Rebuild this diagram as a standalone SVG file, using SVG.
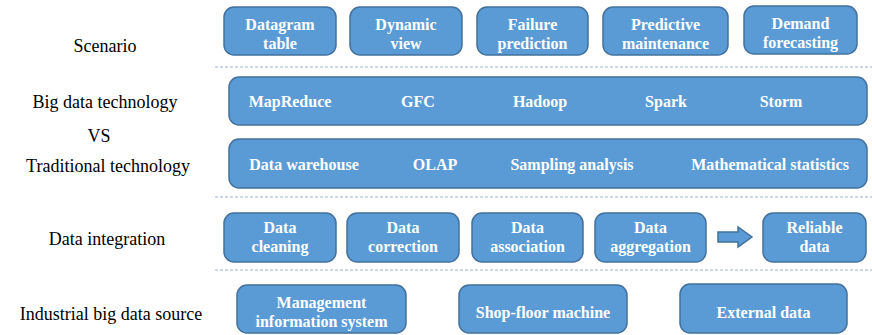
<svg xmlns="http://www.w3.org/2000/svg" width="872" height="335" viewBox="0 0 872 335">
<style>
.box{fill:#5B9BD5;stroke:#41719C;stroke-width:1.5}
.t{font-family:'Liberation Serif','DejaVu Serif','Noto Serif',serif;font-weight:bold;font-size:16px;fill:#ffffff;text-anchor:middle}
.lab{font-family:'Liberation Serif','DejaVu Serif','Noto Serif',serif;font-size:18px;fill:#000000;text-anchor:middle}
.dash{stroke:#9FB4C8;stroke-width:1;stroke-dasharray:3 2;fill:none}
</style>
<rect width="872" height="335" fill="#ffffff"/>
<g id="labels">
<text class="lab" x="105" y="52" font-family="Liberation Serif">Scenario</text>
<text class="lab" x="105" y="108">Big data technology</text>
<text class="lab" x="99" y="142">VS</text>
<text class="lab" x="108" y="172">Traditional technology</text>
<text class="lab" x="107" y="245">Data integration</text>
<text class="lab" x="111" y="320">Industrial big data source</text>
</g>
<g id="separators">
<line class="dash" x1="215" y1="67" x2="872" y2="67"/>
<line class="dash" x1="215" y1="197" x2="872" y2="197"/>
<line class="dash" x1="215" y1="270" x2="872" y2="270"/>
</g>
<g id="n-datagram"><rect class="box" x="224" y="7" width="112" height="48" rx="10"/><text class="t" x="280" y="30">Datagram</text><text class="t" x="280" y="49">table</text></g>
<g id="n-dynamic"><rect class="box" x="350" y="7" width="112" height="48" rx="10"/><text class="t" x="406" y="30">Dynamic</text><text class="t" x="406" y="49">view</text></g>
<g id="n-failure"><rect class="box" x="477" y="7" width="111" height="48" rx="10"/><text class="t" x="532.5" y="30">Failure</text><text class="t" x="532.5" y="49">prediction</text></g>
<g id="n-predictive"><rect class="box" x="603" y="7" width="125" height="48" rx="10"/><text class="t" x="665.5" y="30">Predictive</text><text class="t" x="665.5" y="49">maintenance</text></g>
<g id="n-demand"><rect class="box" x="744" y="6" width="113" height="48" rx="10"/><text class="t" x="800.5" y="29">Demand</text><text class="t" x="800.5" y="48">forecasting</text></g>
<g id="n-bigdata"><rect class="box" x="229" y="77" width="638" height="48" rx="10"/>
<text class="t" x="290" y="107">MapReduce</text><text class="t" x="418" y="107">GFC</text><text class="t" x="540" y="107">Hadoop</text><text class="t" x="666" y="107">Spark</text><text class="t" x="781" y="107">Storm</text></g>
<g id="n-traditional"><rect class="box" x="229" y="139" width="638" height="49" rx="10"/>
<text class="t" x="304" y="170">Data warehouse</text><text class="t" x="435" y="170">OLAP</text><text class="t" x="572" y="170">Sampling analysis</text><text class="t" x="770" y="170">Mathematical statistics</text></g>
<g id="n-cleaning"><rect class="box" x="224" y="213" width="112" height="49" rx="10"/><text class="t" x="280" y="233">Data</text><text class="t" x="280" y="252">cleaning</text></g>
<g id="n-correction"><rect class="box" x="347" y="213" width="112" height="49" rx="10"/><text class="t" x="403" y="233">Data</text><text class="t" x="403" y="252">correction</text></g>
<g id="n-association"><rect class="box" x="472" y="213" width="111" height="49" rx="10"/><text class="t" x="527.5" y="233">Data</text><text class="t" x="527.5" y="252">association</text></g>
<g id="n-aggregation"><rect class="box" x="595" y="213" width="111" height="49" rx="10"/><text class="t" x="650.5" y="233">Data</text><text class="t" x="650.5" y="252">aggregation</text></g>
<g id="n-reliable"><rect class="box" x="763" y="213" width="103" height="49" rx="10"/><text class="t" x="814.5" y="233">Reliable</text><text class="t" x="814.5" y="252">data</text></g>
<g id="n-mis"><rect class="box" x="237" y="285" width="169" height="48" rx="10"/><text class="t" x="321.5" y="308">Management</text><text class="t" x="321.5" y="327">information system</text></g>
<g id="n-shopfloor"><rect class="box" x="459" y="285" width="168" height="48" rx="10"/><text class="t" x="543" y="318">Shop-floor machine</text></g>
<g id="n-external"><rect class="box" x="680" y="284" width="167" height="49" rx="10"/><text class="t" x="763.5" y="318">External data</text></g>
<g id="connectors">
<path class="box" d="M718 232 L738 232 L738 227 L752 237 L738 247 L738 242 L718 242 Z"/>
</g>
</svg>
